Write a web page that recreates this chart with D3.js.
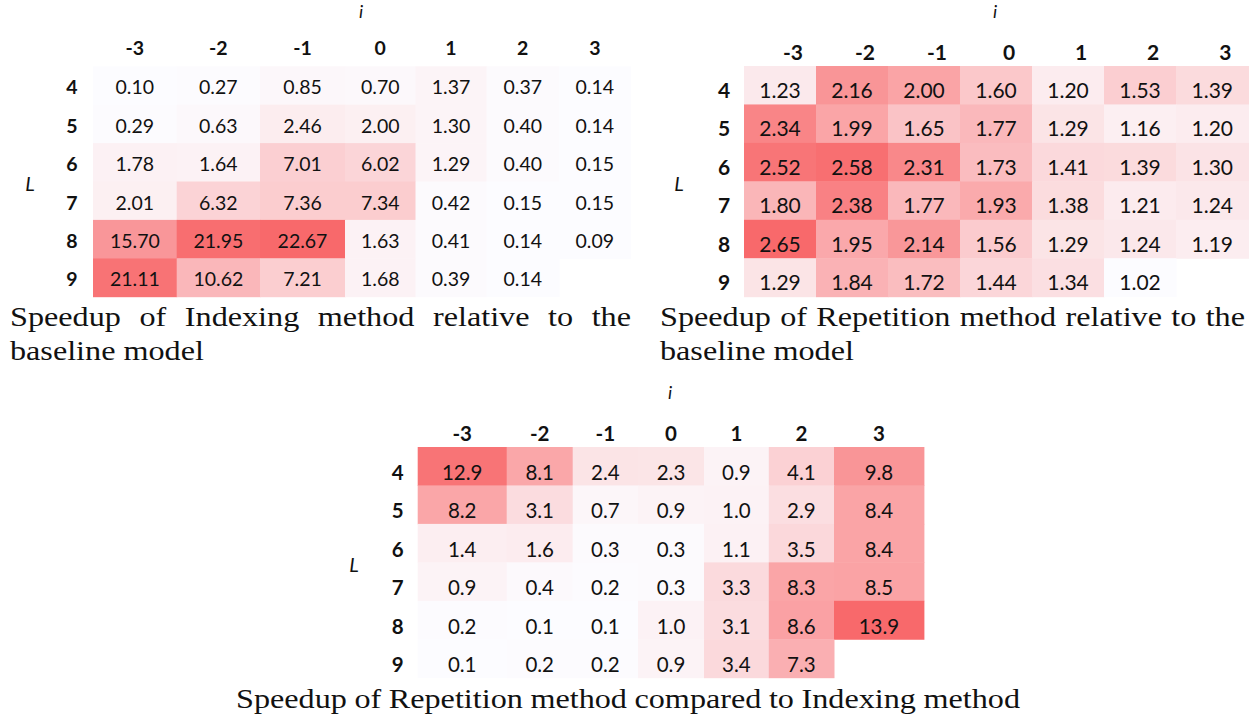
<!DOCTYPE html>
<html>
<head>
    <meta charset="utf-8">
    <title>Speedup heatmaps</title>
    <script src="https://d3js.org/d3.v7.min.js"></script>
    <style>
        body { margin: 0; background: #fff; }
        .cell-text { font-family: Lato, "Open Sans", sans-serif; fill: #111; }
        .head { font-family: Lato, "Open Sans", sans-serif; font-weight: bold; fill: #111; }
        .axis-name { font-family: Lato, "Open Sans", sans-serif; font-style: italic; fill: #111; }
        .caption { font-family: "Liberation Serif", "Times New Roman", serif; fill: #111; }
    </style>
</head>
<body>
<svg width="1260" height="720"></svg>
<script>
    // categories
    var iLabels = ["-3", "-2", "-1", "0", "1", "2", "3"];
    var lLabels = ["4", "5", "6", "7", "8", "9"];

    // values, rows = L, columns = i (null = no cell)
    var indexingSpeedup = [
        [0.10, 0.27, 0.85, 0.70, 1.37, 0.37, 0.14],
        [0.29, 0.63, 2.46, 2.00, 1.30, 0.40, 0.14],
        [1.78, 1.64, 7.01, 6.02, 1.29, 0.40, 0.15],
        [2.01, 6.32, 7.36, 7.34, 0.42, 0.15, 0.15],
        [15.70, 21.95, 22.67, 1.63, 0.41, 0.14, 0.09],
        [21.11, 10.62, 7.21, 1.68, 0.39, 0.14, null]
    ];
    var repetitionSpeedup = [
        [1.23, 2.16, 2.00, 1.60, 1.20, 1.53, 1.39],
        [2.34, 1.99, 1.65, 1.77, 1.29, 1.16, 1.20],
        [2.52, 2.58, 2.31, 1.73, 1.41, 1.39, 1.30],
        [1.80, 2.38, 1.77, 1.93, 1.38, 1.21, 1.24],
        [2.65, 1.95, 2.14, 1.56, 1.29, 1.24, 1.19],
        [1.29, 1.84, 1.72, 1.44, 1.34, 1.02, null]
    ];
    var repetitionVsIndexing = [
        [12.9, 8.1, 2.4, 2.3, 0.9, 4.1, 9.8],
        [8.2, 3.1, 0.7, 0.9, 1.0, 2.9, 8.4],
        [1.4, 1.6, 0.3, 0.3, 1.1, 3.5, 8.4],
        [0.9, 0.4, 0.2, 0.3, 3.3, 8.3, 8.5],
        [0.2, 0.1, 0.1, 1.0, 3.1, 8.6, 13.9],
        [0.1, 0.2, 0.2, 0.9, 3.4, 7.3, null]
    ];

    var captions1 = ["Speedup of Indexing method relative to the", "baseline model"];
    var captions2 = ["Speedup of Repetition method relative to the", "baseline model"];
    var captions3 = ["Speedup of Repetition method compared to Indexing method"];

    // layout of the three tables (Excel-like uneven column widths)
    var panels = [
        {data: indexingSpeedup, fmt: ".2f", fontSize: 19.5,
         colEdges: [93, 176.7, 260, 345, 415.5, 486.5, 559, 630.6],
         top: 66.3, bottom: 296.7, textDy: 28, headY: 55, headDx: 0, rowLabelX: 72,
         iPos: [361, 18], lPos: [30, 191],
         caption: captions1, capX: 10, capY: [326, 360], capW: [621, null]},
        {data: repetitionSpeedup, fmt: ".2f", fontSize: 21,
         colEdges: [744, 816, 888, 960, 1032, 1104, 1176, 1248.5],
         top: 66, bottom: 296.7, textDy: 32, headY: 60, headDx: 13, rowLabelX: 724,
         iPos: [995, 18], lPos: [679, 191],
         caption: captions2, capX: 660, capY: [326, 360], capW: [585, null]},
        {data: repetitionVsIndexing, fmt: ".1f", fontSize: 20.5,
         colEdges: [417.7, 506.7, 572.7, 638, 704, 768.8, 834, 923.9],
         top: 447, bottom: 677.7, textDy: 33, headY: 441, headDx: 0, rowLabelX: 397.7,
         iPos: [670, 399], lPos: [354, 572],
         caption: captions3, capX: 236, capY: [708], capW: [784]}
    ];

    var svg = d3.select("svg");
    var capScale = 1.15; // caption glyphs are a bit wide in the source

    panels.forEach(function (p) {
        var g = svg.append("g");
        var values = d3.merge(p.data).filter(function (v) { return v != null; });

        // piecewise linear scale gives the uneven column edges
        var xScale = d3.scaleLinear()
            .domain(d3.range(iLabels.length + 1))
            .range(p.colEdges);
        var yScale = d3.scaleBand()
            .domain(lLabels)
            .range([p.top, p.bottom]);
        var color = d3.scaleLinear()
            .domain(d3.extent(values))
            .range(["#FCFCFF", "#F8696B"]);
        var fmt = d3.format(p.fmt);

        var cells = [];
        p.data.forEach(function (row, r) {
            row.forEach(function (v, c) {
                if (v != null) cells.push({r: r, c: c, v: v});
            });
        });

        g.selectAll("rect")
            .data(cells)
            .enter()
            .append("rect")
            .attr("x", function (d) { return xScale(d.c); })
            .attr("y", function (d) { return yScale(lLabels[d.r]); })
            .attr("width", function (d) { return xScale(d.c + 1) - xScale(d.c) + 0.5; })
            .attr("height", yScale.bandwidth() + 0.5)
            .attr("fill", function (d) { return color(d.v); });

        g.selectAll(".cell-text")
            .data(cells)
            .enter()
            .append("text")
            .attr("class", "cell-text")
            .attr("x", function (d) { return (xScale(d.c) + xScale(d.c + 1)) / 2; })
            .attr("y", function (d) { return yScale(lLabels[d.r]) + p.textDy; })
            .attr("text-anchor", "middle")
            .style("font-size", p.fontSize + "px")
            .text(function (d) { return fmt(d.v); });

        // column headers (i)
        g.selectAll(".col-head")
            .data(iLabels)
            .enter()
            .append("text")
            .attr("class", "head")
            .attr("x", function (d, i) { return (xScale(i) + xScale(i + 1)) / 2 + p.headDx; })
            .attr("y", p.headY)
            .attr("text-anchor", "middle")
            .style("font-size", p.fontSize + "px")
            .text(function (d) { return d; });

        // row headers (L)
        g.selectAll(".row-head")
            .data(lLabels)
            .enter()
            .append("text")
            .attr("class", "head")
            .attr("x", p.rowLabelX)
            .attr("y", function (d) { return yScale(d) + p.textDy; })
            .attr("text-anchor", "middle")
            .style("font-size", p.fontSize + "px")
            .text(function (d) { return d; });

        g.append("text")
            .attr("class", "axis-name")
            .attr("x", p.iPos[0])
            .attr("y", p.iPos[1])
            .attr("text-anchor", "middle")
            .style("font-size", "18px")
            .text("i");
        g.append("text")
            .attr("class", "axis-name")
            .attr("x", p.lPos[0])
            .attr("y", p.lPos[1])
            .attr("text-anchor", "middle")
            .style("font-size", "20px")
            .text("L");

        // captions: stretched serif text, justified lines get extra word spacing
        p.caption.forEach(function (line, k) {
            var t = g.append("text")
                .attr("class", "caption")
                .attr("transform", "translate(" + p.capX + "," + p.capY[k] + ") scale(" + capScale + ",1)")
                .style("font-size", "28px")
                .text(line);
            if (p.capW[k]) {
                var natural = t.node().getComputedTextLength();
                var gaps = line.split(" ").length - 1;
                var extra = (p.capW[k] / capScale - natural) / gaps;
                t.style("word-spacing", extra + "px");
            }
        });
    });
</script>
</body>
</html>
